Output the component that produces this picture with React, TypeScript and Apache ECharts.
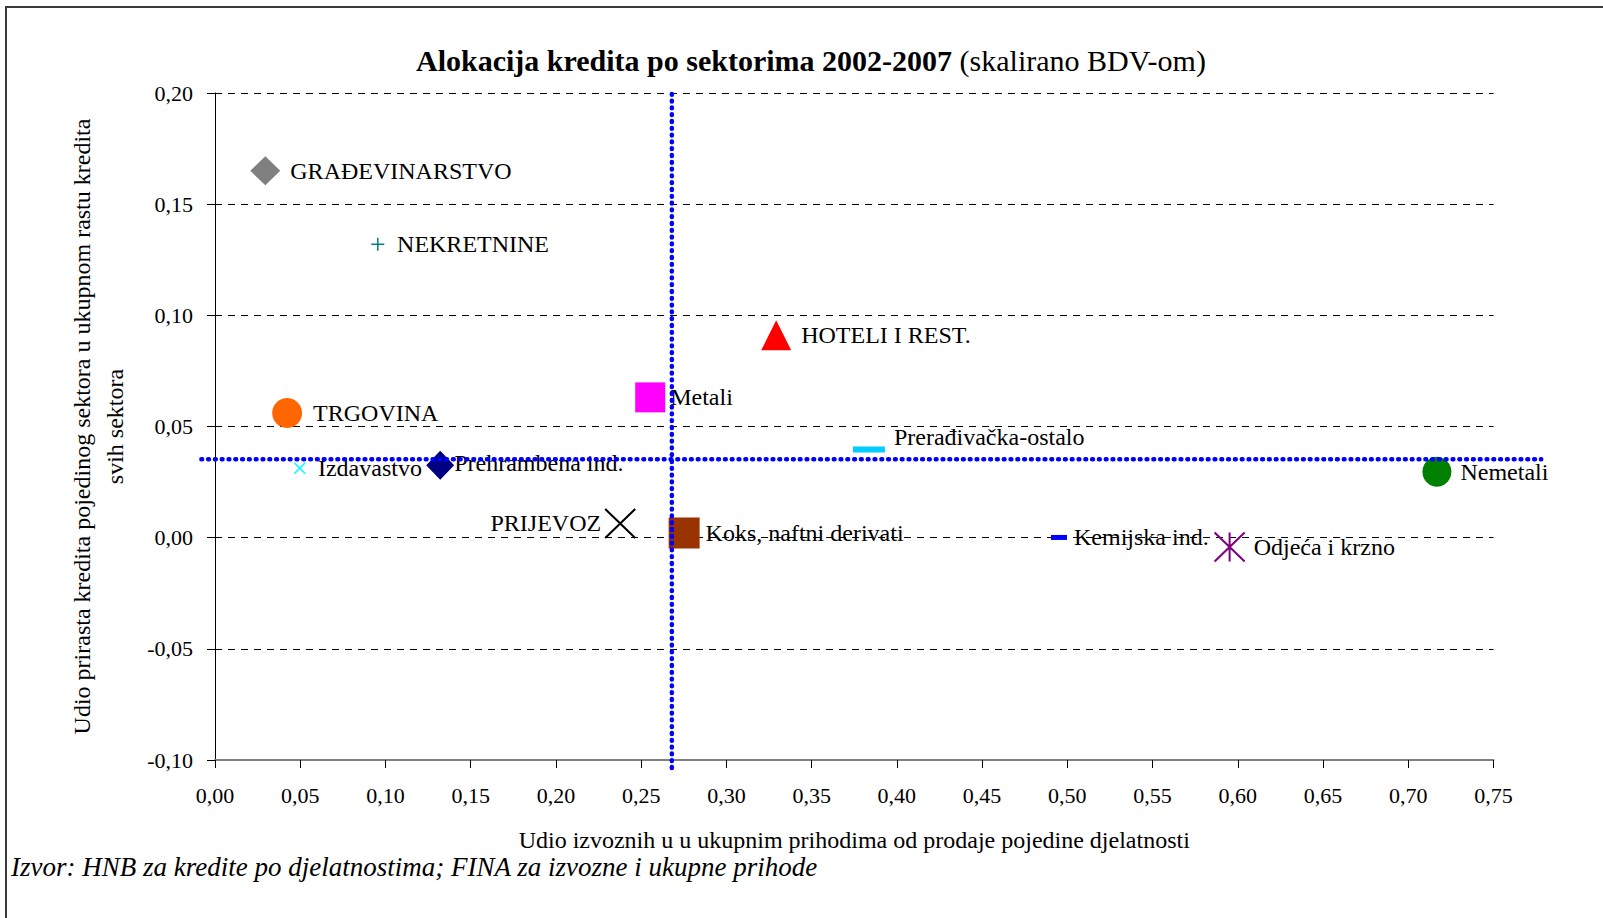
import React, { useEffect, useRef } from 'react';
import * as echarts from 'echarts';

const FONT = '"Liberation Serif", "Times New Roman", Times, serif';

// ---- data ----
const sectorNames = [
  'GRAĐEVINARSTVO',
  'NEKRETNINE',
  'TRGOVINA',
  'Metali',
  'Prehrambena ind.',
  'Izdavastvo',
  'PRIJEVOZ',
  'Koks, naftni derivati',
  'Prerađivačka-ostalo',
  'HOTELI I REST.',
  'Nemetali',
  'Kemijska ind.',
  'Odjeća i krzno',
];
const exportShare = [0.0295, 0.0955, 0.0423, 0.2553, 0.1321, 0.0497, 0.2377, 0.2752, 0.3836, 0.3292, 0.7168, 0.4951, 0.5952];
const creditShare = [0.165, 0.132, 0.0561, 0.0631, 0.0326, 0.0312, 0.0064, 0.0021, 0.0397, 0.091, 0.0296, 0.0001, -0.0042];

const refExport = 0.268;
const refCredit = 0.0353;
const hRefSpan = [-0.008, 0.778];
const vRefSpan = [0.1996, -0.1055];

const xTickMin = 0;
const xTickMax = 0.75;
const yTickMin = -0.1;
const yTickMax = 0.2;
const tickStep = 0.05;

// ---- styles (separate from data) ----
const PLUS = 'path://M5,0L5,10M0,5L10,5';
const CROSS = 'path://M0,0L10,10M10,0L0,10';
const STAR = 'path://M5,0L5,10M0,0L10,10M10,0L0,10';

type MS = {
  symbol: string;
  size: number | number[];
  color: string;
  stroke?: number;
  pos?: string;
  dist?: number;
  offset?: number[];
};
const markerStyles: MS[] = [
  { symbol: 'diamond', size: [30, 29], color: '#808080', dist: 10 },
  { symbol: PLUS, size: 13, color: '#008080', stroke: 1.5, dist: 12 },
  { symbol: 'circle', size: 30, color: '#FF6600', dist: 11 },
  { symbol: 'rect', size: 30, color: '#FF00FF', dist: 5 },
  { symbol: 'diamond', size: [28, 29], color: '#000080', dist: 0, offset: [0, -2] },
  { symbol: CROSS, size: 11, color: '#00FFFF', stroke: 1.5, dist: 12 },
  { symbol: CROSS, size: [30, 29], color: '#000000', stroke: 2, pos: 'left', dist: 3 },
  { symbol: 'rect', size: 31, color: '#993300', dist: 6 },
  { symbol: 'rect', size: [32, 6], color: '#00CCFF', dist: 9, offset: [0, -12] },
  { symbol: 'triangle', size: 30, color: '#FF0000', dist: 10 },
  { symbol: 'circle', size: [29, 30], color: '#008000', dist: 9 },
  { symbol: 'rect', size: [16, 5], color: '#0000FF', dist: 7 },
  { symbol: STAR, size: [30, 29], color: '#800080', stroke: 2, dist: 8 },
];

const fmt = (v: number) => v.toFixed(2).replace('.', ',');

export default function App() {
  const ref = useRef<HTMLDivElement>(null);

  useEffect(() => {
    if (!ref.current) return;
    const chart = echarts.init(ref.current, undefined, { renderer: 'svg' });

    const points = sectorNames.map((name, i) => {
      const s = markerStyles[i];
      const isStroke = !!s.stroke;
      return {
        name,
        value: [exportShare[i], creditShare[i]],
        symbol: s.symbol,
        symbolSize: s.size,
        itemStyle: isStroke
          ? { color: 'rgba(0,0,0,0)', borderColor: s.color, borderWidth: s.stroke, opacity: 1 }
          : { color: s.color, borderWidth: 0, opacity: 1 },
        label: {
          show: true,
          position: s.pos || 'right',
          distance: s.dist ?? 5,
          offset: s.offset || [0, 0],
          formatter: '{b}',
          color: '#000',
          fontSize: 24,
          fontFamily: FONT,
        },
      };
    });

    const dottedStyle = {
      fill: 'none',
      stroke: '#0000FF',
      lineWidth: 4.5,
      lineDash: [0.8, 6],
      lineCap: 'round',
    };

    // reference lines: [x1, y1, x2, y2]
    const refLines = [
      [hRefSpan[0], refCredit, hRefSpan[1], refCredit],
      [refExport, vRefSpan[0], refExport, vRefSpan[1]],
    ];

    chart.setOption({
      animation: false,
      backgroundColor: '#ffffff',
      title: [
        {
          text: '{b|Alokacija kredita po sektorima 2002-2007} {n|(skalirano BDV-om)}',
          left: 416,
          top: 45,
          padding: 0,
          textStyle: {
            fontSize: 30,
            fontFamily: FONT,
            color: '#000',
            fontWeight: 'normal',
            rich: {
              b: { fontSize: 30, fontWeight: 'bold', fontFamily: FONT, color: '#000' },
              n: { fontSize: 30, fontWeight: 'normal', fontFamily: FONT, color: '#000' },
            },
          },
        },
        {
          text: 'Izvor: HNB za kredite po djelatnostima; FINA za izvozne i ukupne prihode',
          left: 11,
          top: 853,
          padding: 0,
          textStyle: {
            fontSize: 27,
            fontStyle: 'italic',
            fontWeight: 'normal',
            fontFamily: FONT,
            color: '#000',
          },
        },
      ],
      graphic: [
        {
          type: 'rect',
          silent: true,
          z: -10,
          shape: { x: 6, y: 7, width: 1700, height: 1000 },
          style: { fill: 'none', stroke: '#3a3a3a', lineWidth: 2 },
        },
      ],
      grid: { left: 215, right: 109.5, top: 93, bottom: 158, containLabel: false },
      xAxis: {
        type: 'value',
        min: xTickMin,
        max: xTickMax,
        interval: tickStep,
        name: 'Udio izvoznih u u ukupnim prihodima od prodaje pojedine djelatnosti',
        nameLocation: 'middle',
        nameGap: 68,
        nameTextStyle: { fontSize: 24, fontFamily: FONT, color: '#000' },
        axisLine: { show: true, onZero: false, lineStyle: { color: '#808080', width: 2 } },
        axisTick: { show: true, length: 8, lineStyle: { color: '#000', width: 1 } },
        axisLabel: { formatter: fmt, fontSize: 22, fontFamily: FONT, color: '#000', margin: 24 },
        splitLine: { show: false },
      },
      yAxis: {
        type: 'value',
        min: yTickMin,
        max: yTickMax,
        interval: tickStep,
        name: 'Udio prirasta kredita pojedinog sektora u ukupnom rastu kredita\nsvih sektora',
        nameLocation: 'middle',
        nameRotate: 90,
        nameGap: 83.5,
        nameTextStyle: { fontSize: 24, lineHeight: 33, fontFamily: FONT, color: '#000', align: 'center' },
        axisLine: { show: true, onZero: false, lineStyle: { color: '#000', width: 1 } },
        axisTick: { show: true, length: 8, lineStyle: { color: '#000', width: 1 } },
        axisLabel: { formatter: fmt, fontSize: 22, fontFamily: FONT, color: '#000', margin: 22 },
        splitLine: { show: true, lineStyle: { color: '#000', width: 1, type: [7, 6] } },
      },
      series: [
        {
          type: 'scatter',
          data: points,
          clip: false,
          z: 3,
          silent: true,
        },
        {
          type: 'custom',
          data: refLines,
          clip: false,
          silent: true,
          z: 6,
          encode: { x: [0, 2], y: [1, 3] },
          renderItem: (params: any, api: any) => {
            const p1 = api.coord([api.value(0), api.value(1)]);
            const p2 = api.coord([api.value(2), api.value(3)]);
            return {
              type: 'line',
              shape: { x1: p1[0], y1: p1[1], x2: p2[0], y2: p2[1] },
              style: dottedStyle,
            };
          },
        },
      ],
    });

    return () => chart.dispose();
  }, []);

  return (
    <div
      ref={ref}
      style={{ position: 'absolute', left: 0, top: 0, width: 1603, height: 918, background: '#fff' }}
    />
  );
}
